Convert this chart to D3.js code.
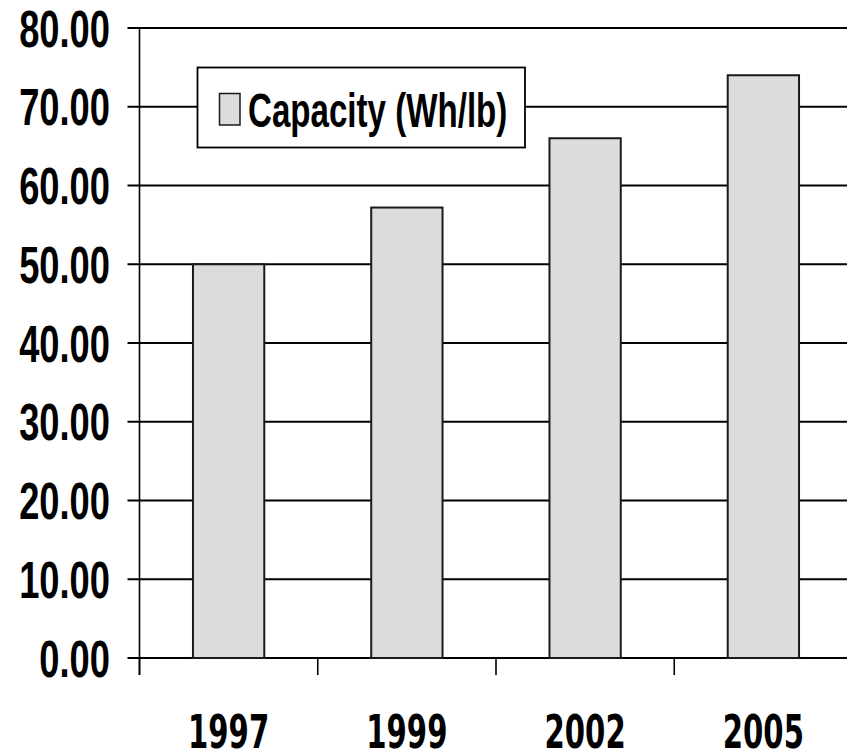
<!DOCTYPE html>
<html>
<head>
<meta charset="utf-8">
<script src="https://cdn.jsdelivr.net/npm/d3@7"></script>
<style>
  html, body { margin: 0; padding: 0; background: #fff; }
  svg { display: block; }
</style>
</head>
<body>
<svg id="chart" width="847" height="754"></svg>
<script>
// Battery capacity by year
const years = ["1997", "1999", "2002", "2005"];
const capacity = [50.0, 57.2, 66.0, 74.0];
const seriesName = "Capacity (Wh/lb)";
const yTicks = [0, 10, 20, 30, 40, 50, 60, 70, 80];

const svg = d3.select("#chart");
const W = 847, H = 754;
const plot = { left: 139.5, right: 852.5, top: 28, bottom: 658 };

const x = d3.scaleBand()
  .domain(years)
  .range([plot.left, plot.right])
  .paddingInner(0.6)
  .paddingOuter(0.3);

const y = d3.scaleLinear()
  .domain([0, 80])
  .range([plot.bottom, plot.top]);

const ink = "#000";

// horizontal gridlines with short ticks to the left of the axis
svg.append("g")
  .selectAll("line")
  .data(yTicks)
  .join("line")
  .attr("x1", plot.left - 12)
  .attr("x2", W)
  .attr("y1", d => y(d))
  .attr("y2", d => y(d))
  .attr("stroke", ink)
  .attr("stroke-width", 1.8);

// value axis line
svg.append("line")
  .attr("x1", plot.left).attr("x2", plot.left)
  .attr("y1", y(80)).attr("y2", y(0) + 17)
  .attr("stroke", ink)
  .attr("stroke-width", 1.6);

// category boundary ticks below the baseline
const step = x.step();
const bounds = years.map(d => x(d) + x.bandwidth() / 2 - step / 2);
svg.append("g")
  .selectAll("line")
  .data(bounds)
  .join("line")
  .attr("x1", d => d).attr("x2", d => d)
  .attr("y1", y(0)).attr("y2", y(0) + 17)
  .attr("stroke", ink)
  .attr("stroke-width", 1.6);

// bars
svg.append("g")
  .selectAll("rect")
  .data(years.map((yr, i) => ({ yr, v: capacity[i] })))
  .join("rect")
  .attr("x", d => x(d.yr))
  .attr("y", d => y(d.v))
  .attr("width", x.bandwidth())
  .attr("height", d => y(0) - y(d.v))
  .attr("fill", "#dcdcdc")
  .attr("stroke", "#1a1a1a")
  .attr("stroke-width", 2);

// value labels
svg.append("g")
  .selectAll("text")
  .data(yTicks)
  .join("text")
  .attr("transform", d => `translate(110,${y(d) + 18.5}) scale(0.705,1)`)
  .attr("text-anchor", "end")
  .attr("font-family", "'Liberation Sans', Arial, sans-serif")
  .attr("font-weight", "bold")
  .attr("font-size", 51.5)
  .attr("fill", ink)
  .text(d => d3.format(".2f")(d));

// category labels
svg.append("g")
  .selectAll("text")
  .data(years)
  .join("text")
  .attr("transform", d => `translate(${x(d) + x.bandwidth() / 2},748) scale(0.62,1)`)
  .attr("text-anchor", "middle")
  .attr("font-family", "'DejaVu Sans', Verdana, sans-serif")
  .attr("font-weight", "bold")
  .attr("font-size", 47)
  .attr("fill", ink)
  .text(d => d);

// legend
const legend = svg.append("g");
legend.append("rect")
  .attr("x", 197.5).attr("y", 67.5)
  .attr("width", 327.5).attr("height", 80)
  .attr("fill", "#fff")
  .attr("stroke", ink)
  .attr("stroke-width", 1.8);
legend.append("rect")
  .attr("x", 219.5).attr("y", 93.5)
  .attr("width", 20.5).attr("height", 31.5)
  .attr("fill", "#dcdcdc")
  .attr("stroke", "#1a1a1a")
  .attr("stroke-width", 1.5);
legend.append("text")
  .attr("transform", "translate(248,127) scale(0.69,1)")
  .attr("font-family", "'Liberation Sans', Arial, sans-serif")
  .attr("font-weight", "bold")
  .attr("font-size", 48)
  .attr("fill", ink)
  .text(seriesName);
</script>
</body>
</html>
